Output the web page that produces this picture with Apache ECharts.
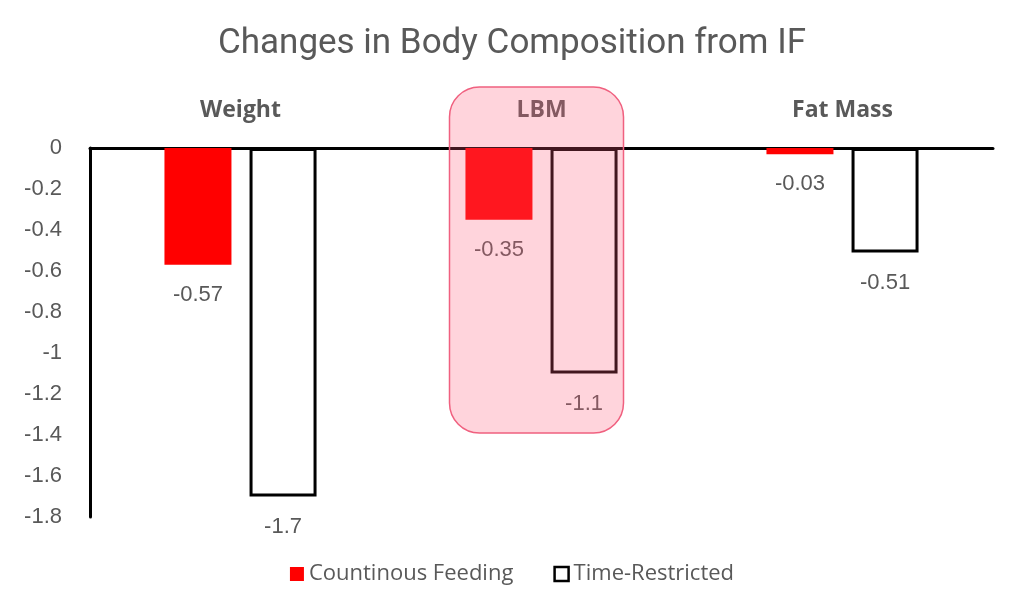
<!DOCTYPE html>
<html>
<head>
<meta charset="utf-8">
<script src="https://cdn.jsdelivr.net/npm/echarts@6/dist/echarts.min.js"></script>
<style>html,body{margin:0;padding:0;background:#fff;}#main{width:1024px;height:614px;}</style>
</head>
<body>
<div id="main"></div>
<script>
const categories = ['Weight', 'LBM', 'Fat Mass'];
const continuousFeeding = [-0.57, -0.35, -0.03];
const timeRestricted = [-1.7, -1.1, -0.51];
const seriesNames = ['Countinous Feeding', 'Time-Restricted'];
const yMin = -1.8, yMax = 0, yStep = 0.2;
const highlightCategory = 'LBM';
const highlightBottomValue = -1.39;

const gray = '#595959';
const chart = echarts.init(document.getElementById('main'), null, {renderer: 'canvas'});
const labelStyle = {show: true, position: 'bottom', distance: 19, color: gray, fontSize: 22, fontFamily: 'Liberation Sans'};
chart.setOption({
  animation: false,
  backgroundColor: '#fff',
  title: {
    text: 'Changes in Body Composition from IF', left: 'center', top: 22,
    textStyle: {color: gray, fontSize: 35, fontWeight: 'normal', fontFamily: 'Roboto'}
  },
  legend: {
    bottom: 24, left: 'center', itemWidth: 14, itemHeight: 14, itemGap: 40,
    textStyle: {color: gray, fontSize: 22, fontFamily: 'Open Sans'},
    data: [
      {name: seriesNames[0], icon: 'rect', itemStyle: {color: '#ff0000'}},
      {name: seriesNames[1], icon: 'rect', itemStyle: {color: '#fff', borderColor: '#000', borderWidth: 2.5}}
    ]
  },
  grid: {left: 90, right: 31, top: 148, bottom: 97},
  xAxis: {
    type: 'category', data: categories, position: 'top',
    axisLine: {show: true, lineStyle: {color: '#000', width: 3}},
    axisTick: {show: false},
    axisLabel: {color: gray, fontSize: 23, fontWeight: 'bold', fontFamily: 'Open Sans', margin: 26}
  },
  yAxis: {
    type: 'value', min: yMin, max: yMax, interval: yStep,
    axisLine: {show: true, lineStyle: {color: '#000', width: 3}},
    axisTick: {show: false},
    splitLine: {show: false},
    axisLabel: {color: gray, fontSize: 22, fontFamily: 'Liberation Sans', margin: 28,
      formatter: v => String(Math.round(v * 10) / 10)}
  },
  series: [
    {name: seriesNames[0], type: 'bar', data: continuousFeeding, barWidth: 67, barGap: '27%',
      itemStyle: {color: '#ff0000'}, label: labelStyle},
    {name: seriesNames[1], type: 'bar', data: timeRestricted, barWidth: 67,
      itemStyle: {color: '#fff', borderColor: '#000', borderWidth: 3}, label: labelStyle}
  ]
});
const cx = chart.convertToPixel({xAxisIndex: 0}, highlightCategory);
const y0 = chart.convertToPixel({yAxisIndex: 0}, 0);
const yb = chart.convertToPixel({yAxisIndex: 0}, highlightBottomValue);
chart.setOption({
  graphic: [{
    type: 'rect', z: 100,
    shape: {x: cx - 92, y: y0 - 61, width: 174, height: yb - (y0 - 61), r: 30},
    style: {fill: 'rgba(255,90,120,0.26)', stroke: '#f0607f', lineWidth: 1.5}
  }]
});
</script>
</body>
</html>
